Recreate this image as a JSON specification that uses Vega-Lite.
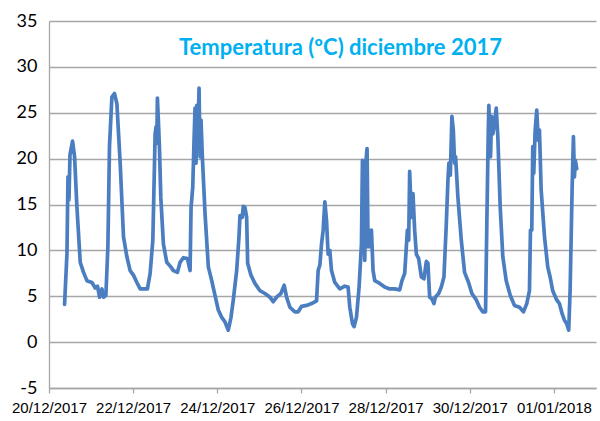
{
  "$schema": "https://vega.github.io/schema/vega-lite/v6.json",
  "width": 547,
  "height": 367,
  "autosize": "none",
  "padding": {"left": 49, "top": 21, "right": 4, "bottom": 33},
  "background": "white",
  "title": {
    "text": "Temperatura (ºC) diciembre 2017",
    "font": "Lato",
    "fontSize": 22,
    "fontWeight": "bold",
    "color": "#00B0F0",
    "anchor": "middle",
    "frame": "group",
    "dx": 18,
    "offset": -48
  },
  "config": {
    "view": {"stroke": null},
    "axis": {"grid": false}
  },
  "data": {
    "values": [
      {"t": "2017-12-20T08:53", "v": 4.1},
      {"t": "2017-12-20T10:15", "v": 9.7},
      {"t": "2017-12-20T10:49", "v": 18.0},
      {"t": "2017-12-20T11:23", "v": 15.5},
      {"t": "2017-12-20T11:58", "v": 20.4},
      {"t": "2017-12-20T13:26", "v": 21.9},
      {"t": "2017-12-20T14:35", "v": 20.2},
      {"t": "2017-12-20T15:56", "v": 14.7},
      {"t": "2017-12-20T17:49", "v": 8.7},
      {"t": "2017-12-20T19:42", "v": 7.6},
      {"t": "2017-12-20T21:38", "v": 6.7},
      {"t": "2017-12-21T00:29", "v": 6.5},
      {"t": "2017-12-21T02:22", "v": 5.9},
      {"t": "2017-12-21T03:40", "v": 6.1},
      {"t": "2017-12-21T04:49", "v": 4.9},
      {"t": "2017-12-21T06:11", "v": 5.8},
      {"t": "2017-12-21T07:05", "v": 4.9},
      {"t": "2017-12-21T08:27", "v": 5.1},
      {"t": "2017-12-21T09:35", "v": 10.4},
      {"t": "2017-12-21T10:30", "v": 21.3},
      {"t": "2017-12-21T11:52", "v": 26.7},
      {"t": "2017-12-21T13:21", "v": 27.1},
      {"t": "2017-12-21T14:43", "v": 26.0},
      {"t": "2017-12-21T16:36", "v": 19.5},
      {"t": "2017-12-21T18:29", "v": 11.5},
      {"t": "2017-12-21T20:25", "v": 9.3},
      {"t": "2017-12-21T22:17", "v": 7.8},
      {"t": "2017-12-22T00:10", "v": 7.3},
      {"t": "2017-12-22T02:07", "v": 6.5},
      {"t": "2017-12-22T03:59", "v": 5.8},
      {"t": "2017-12-22T05:52", "v": 5.8},
      {"t": "2017-12-22T08:08", "v": 5.8},
      {"t": "2017-12-22T09:41", "v": 7.5},
      {"t": "2017-12-22T11:13", "v": 11.1},
      {"t": "2017-12-22T11:58", "v": 17.6},
      {"t": "2017-12-22T12:32", "v": 22.7},
      {"t": "2017-12-22T13:06", "v": 23.5},
      {"t": "2017-12-22T13:30", "v": 21.7},
      {"t": "2017-12-22T13:50", "v": 26.6},
      {"t": "2017-12-22T14:25", "v": 24.0},
      {"t": "2017-12-22T14:59", "v": 21.3},
      {"t": "2017-12-22T15:46", "v": 15.8},
      {"t": "2017-12-22T17:15", "v": 10.7},
      {"t": "2017-12-22T19:11", "v": 8.7},
      {"t": "2017-12-22T21:28", "v": 8.2},
      {"t": "2017-12-22T22:57", "v": 7.8},
      {"t": "2017-12-23T01:13", "v": 7.6},
      {"t": "2017-12-23T02:46", "v": 8.7},
      {"t": "2017-12-23T04:38", "v": 9.2},
      {"t": "2017-12-23T06:55", "v": 9.1},
      {"t": "2017-12-23T08:28", "v": 7.8},
      {"t": "2017-12-23T09:02", "v": 14.7},
      {"t": "2017-12-23T10:00", "v": 16.9},
      {"t": "2017-12-23T10:44", "v": 22.0},
      {"t": "2017-12-23T11:18", "v": 25.5},
      {"t": "2017-12-23T11:52", "v": 19.5},
      {"t": "2017-12-23T12:16", "v": 25.8},
      {"t": "2017-12-23T12:50", "v": 21.3},
      {"t": "2017-12-23T13:35", "v": 27.7},
      {"t": "2017-12-23T14:09", "v": 20.2},
      {"t": "2017-12-23T14:43", "v": 24.2},
      {"t": "2017-12-23T15:28", "v": 20.2},
      {"t": "2017-12-23T17:00", "v": 14.0},
      {"t": "2017-12-23T18:53", "v": 8.2},
      {"t": "2017-12-23T20:49", "v": 6.7},
      {"t": "2017-12-23T22:41", "v": 5.1},
      {"t": "2017-12-24T00:34", "v": 3.5},
      {"t": "2017-12-24T02:31", "v": 2.7},
      {"t": "2017-12-24T04:23", "v": 2.2},
      {"t": "2017-12-24T06:16", "v": 1.3},
      {"t": "2017-12-24T07:48", "v": 2.7},
      {"t": "2017-12-24T09:07", "v": 4.6},
      {"t": "2017-12-24T11:03", "v": 7.8},
      {"t": "2017-12-24T12:22", "v": 11.5},
      {"t": "2017-12-24T12:56", "v": 13.8},
      {"t": "2017-12-24T14:14", "v": 13.6},
      {"t": "2017-12-24T14:49", "v": 14.8},
      {"t": "2017-12-24T15:46", "v": 14.7},
      {"t": "2017-12-24T16:44", "v": 13.6},
      {"t": "2017-12-24T17:19", "v": 8.6},
      {"t": "2017-12-24T19:11", "v": 7.3},
      {"t": "2017-12-24T21:28", "v": 6.4},
      {"t": "2017-12-25T00:19", "v": 5.6},
      {"t": "2017-12-25T03:10", "v": 5.3},
      {"t": "2017-12-25T06:01", "v": 4.9},
      {"t": "2017-12-25T07:53", "v": 4.4},
      {"t": "2017-12-25T09:49", "v": 4.9},
      {"t": "2017-12-25T12:16", "v": 5.3},
      {"t": "2017-12-25T14:09", "v": 6.2},
      {"t": "2017-12-25T15:31", "v": 4.9},
      {"t": "2017-12-25T17:24", "v": 3.8},
      {"t": "2017-12-25T20:14", "v": 3.3},
      {"t": "2017-12-25T22:07", "v": 3.3},
      {"t": "2017-12-26T00:04", "v": 3.9},
      {"t": "2017-12-26T02:55", "v": 4.0},
      {"t": "2017-12-26T05:45", "v": 4.2},
      {"t": "2017-12-26T08:36", "v": 4.5},
      {"t": "2017-12-26T09:31", "v": 7.8},
      {"t": "2017-12-26T10:29", "v": 8.4},
      {"t": "2017-12-26T11:27", "v": 10.7},
      {"t": "2017-12-26T12:22", "v": 12.2},
      {"t": "2017-12-26T13:20", "v": 15.3},
      {"t": "2017-12-26T14:17", "v": 13.3},
      {"t": "2017-12-26T15:12", "v": 9.6},
      {"t": "2017-12-26T16:10", "v": 10.0},
      {"t": "2017-12-26T17:08", "v": 7.8},
      {"t": "2017-12-26T19:01", "v": 6.5},
      {"t": "2017-12-26T21:52", "v": 5.8},
      {"t": "2017-12-27T00:43", "v": 6.1},
      {"t": "2017-12-27T02:35", "v": 6.0},
      {"t": "2017-12-27T03:34", "v": 3.8},
      {"t": "2017-12-27T05:06", "v": 2.0},
      {"t": "2017-12-27T06:01", "v": 1.7},
      {"t": "2017-12-27T07:23", "v": 2.7},
      {"t": "2017-12-27T08:52", "v": 6.0},
      {"t": "2017-12-27T10:13", "v": 10.7},
      {"t": "2017-12-27T10:47", "v": 19.8},
      {"t": "2017-12-27T11:32", "v": 17.6},
      {"t": "2017-12-27T12:06", "v": 8.9},
      {"t": "2017-12-27T12:40", "v": 19.5},
      {"t": "2017-12-27T13:25", "v": 21.1},
      {"t": "2017-12-27T13:59", "v": 10.4},
      {"t": "2017-12-27T14:33", "v": 12.2},
      {"t": "2017-12-27T15:21", "v": 10.4},
      {"t": "2017-12-27T15:55", "v": 12.2},
      {"t": "2017-12-27T16:50", "v": 7.8},
      {"t": "2017-12-27T17:48", "v": 6.7},
      {"t": "2017-12-27T20:38", "v": 6.4},
      {"t": "2017-12-27T23:29", "v": 6.0},
      {"t": "2017-12-28T02:20", "v": 5.8},
      {"t": "2017-12-28T05:11", "v": 5.8},
      {"t": "2017-12-28T08:02", "v": 5.7},
      {"t": "2017-12-28T09:20", "v": 6.7},
      {"t": "2017-12-28T10:53", "v": 7.5},
      {"t": "2017-12-28T12:25", "v": 12.2},
      {"t": "2017-12-28T13:10", "v": 11.1},
      {"t": "2017-12-28T13:43", "v": 18.6},
      {"t": "2017-12-28T14:41", "v": 13.6},
      {"t": "2017-12-28T15:36", "v": 16.2},
      {"t": "2017-12-28T16:34", "v": 12.2},
      {"t": "2017-12-28T17:32", "v": 9.6},
      {"t": "2017-12-28T18:51", "v": 9.1},
      {"t": "2017-12-28T20:23", "v": 7.1},
      {"t": "2017-12-28T21:52", "v": 6.9},
      {"t": "2017-12-28T23:14", "v": 8.8},
      {"t": "2017-12-29T00:08", "v": 8.6},
      {"t": "2017-12-29T01:07", "v": 4.9},
      {"t": "2017-12-29T02:25", "v": 4.7},
      {"t": "2017-12-29T03:34", "v": 4.2},
      {"t": "2017-12-29T04:22", "v": 4.9},
      {"t": "2017-12-29T06:14", "v": 5.3},
      {"t": "2017-12-29T07:46", "v": 6.0},
      {"t": "2017-12-29T09:16", "v": 7.1},
      {"t": "2017-12-29T10:37", "v": 12.9},
      {"t": "2017-12-29T11:32", "v": 17.6},
      {"t": "2017-12-29T12:06", "v": 19.5},
      {"t": "2017-12-29T12:54", "v": 18.2},
      {"t": "2017-12-29T13:49", "v": 24.6},
      {"t": "2017-12-29T14:37", "v": 23.1},
      {"t": "2017-12-29T15:21", "v": 19.5},
      {"t": "2017-12-29T15:55", "v": 20.2},
      {"t": "2017-12-29T17:14", "v": 15.8},
      {"t": "2017-12-29T19:10", "v": 11.1},
      {"t": "2017-12-29T21:02", "v": 7.6},
      {"t": "2017-12-29T23:19", "v": 6.5},
      {"t": "2017-12-30T01:12", "v": 5.3},
      {"t": "2017-12-30T03:43", "v": 4.6},
      {"t": "2017-12-30T05:35", "v": 3.8},
      {"t": "2017-12-30T07:28", "v": 3.3},
      {"t": "2017-12-30T09:00", "v": 3.3},
      {"t": "2017-12-30T09:44", "v": 12.9},
      {"t": "2017-12-30T10:32", "v": 22.7},
      {"t": "2017-12-30T10:53", "v": 25.8},
      {"t": "2017-12-30T11:51", "v": 20.2},
      {"t": "2017-12-30T12:25", "v": 24.6},
      {"t": "2017-12-30T13:09", "v": 22.7},
      {"t": "2017-12-30T14:07", "v": 23.8},
      {"t": "2017-12-30T15:05", "v": 25.5},
      {"t": "2017-12-30T16:00", "v": 22.4},
      {"t": "2017-12-30T17:22", "v": 14.7},
      {"t": "2017-12-30T18:51", "v": 9.3},
      {"t": "2017-12-30T20:47", "v": 6.7},
      {"t": "2017-12-30T23:04", "v": 5.1},
      {"t": "2017-12-31T01:31", "v": 4.0},
      {"t": "2017-12-31T04:22", "v": 3.8},
      {"t": "2017-12-31T06:38", "v": 3.3},
      {"t": "2017-12-31T08:31", "v": 4.2},
      {"t": "2017-12-31T10:03", "v": 5.6},
      {"t": "2017-12-31T10:37", "v": 12.2},
      {"t": "2017-12-31T11:22", "v": 12.2},
      {"t": "2017-12-31T11:56", "v": 21.3},
      {"t": "2017-12-31T12:30", "v": 18.4},
      {"t": "2017-12-31T13:18", "v": 23.1},
      {"t": "2017-12-31T14:13", "v": 25.3},
      {"t": "2017-12-31T15:01", "v": 22.0},
      {"t": "2017-12-31T15:45", "v": 23.1},
      {"t": "2017-12-31T16:43", "v": 16.6},
      {"t": "2017-12-31T18:37", "v": 11.5},
      {"t": "2017-12-31T20:28", "v": 8.2},
      {"t": "2017-12-31T21:50", "v": 7.1},
      {"t": "2017-12-31T23:19", "v": 5.6},
      {"t": "2018-01-01T01:36", "v": 4.6},
      {"t": "2018-01-01T03:08", "v": 4.2},
      {"t": "2018-01-01T04:41", "v": 3.1},
      {"t": "2018-01-01T05:59", "v": 2.4},
      {"t": "2018-01-01T07:17", "v": 2.0},
      {"t": "2018-01-01T08:26", "v": 1.3},
      {"t": "2018-01-01T09:14", "v": 5.6},
      {"t": "2018-01-01T09:48", "v": 11.1},
      {"t": "2018-01-01T10:22", "v": 16.6},
      {"t": "2018-01-01T11:07", "v": 22.4},
      {"t": "2018-01-01T11:41", "v": 18.0},
      {"t": "2018-01-01T12:15", "v": 19.8},
      {"t": "2018-01-01T12:59", "v": 18.9}
    ]
  },
  "mark": {"type": "line", "color": "#4A7EC1", "strokeWidth": 3.7, "strokeJoin": "round", "strokeCap": "round"},
  "encoding": {
    "x": {
      "field": "t",
      "type": "temporal",
      "scale": {
        "domain": [
          {"year": 2017, "month": 12, "date": 20},
          {"year": 2018, "month": 1, "date": 2}
        ]
      },
      "axis": {
        "title": null,
        "format": "%d/%m/%Y",
        "values": [
          {"year": 2017, "month": 12, "date": 20},
          {"year": 2017, "month": 12, "date": 22},
          {"year": 2017, "month": 12, "date": 24},
          {"year": 2017, "month": 12, "date": 26},
          {"year": 2017, "month": 12, "date": 28},
          {"year": 2017, "month": 12, "date": 30},
          {"year": 2018, "month": 1, "date": 1}
        ],
        "grid": false,
        "domainColor": "#A6A6A6",
        "domainWidth": 1.3,
        "tickColor": "#A6A6A6",
        "tickWidth": 1.3,
        "tickSize": 5,
        "labelFont": "Liberation Sans",
        "labelFontSize": 15,
        "labelColor": "#000000",
        "labelPadding": 7,
        "labelOverlap": false,
        "labelFlush": false
      }
    },
    "y": {
      "field": "v",
      "type": "quantitative",
      "scale": {"domain": [-5, 35], "nice": false, "zero": false},
      "axis": {
        "title": null,
        "values": [-5, 0, 5, 10, 15, 20, 25, 30, 35],
        "labelExpr": "'' + datum.value",
        "grid": true,
        "gridColor": "#A6A6A6",
        "gridWidth": 1.3,
        "domainColor": "#A6A6A6",
        "domainWidth": 1.3,
        "ticks": false,
        "labelFont": "Lato",
        "labelFontSize": 18,
        "labelColor": "#000000",
        "labelPadding": 12
      }
    }
  }
}
